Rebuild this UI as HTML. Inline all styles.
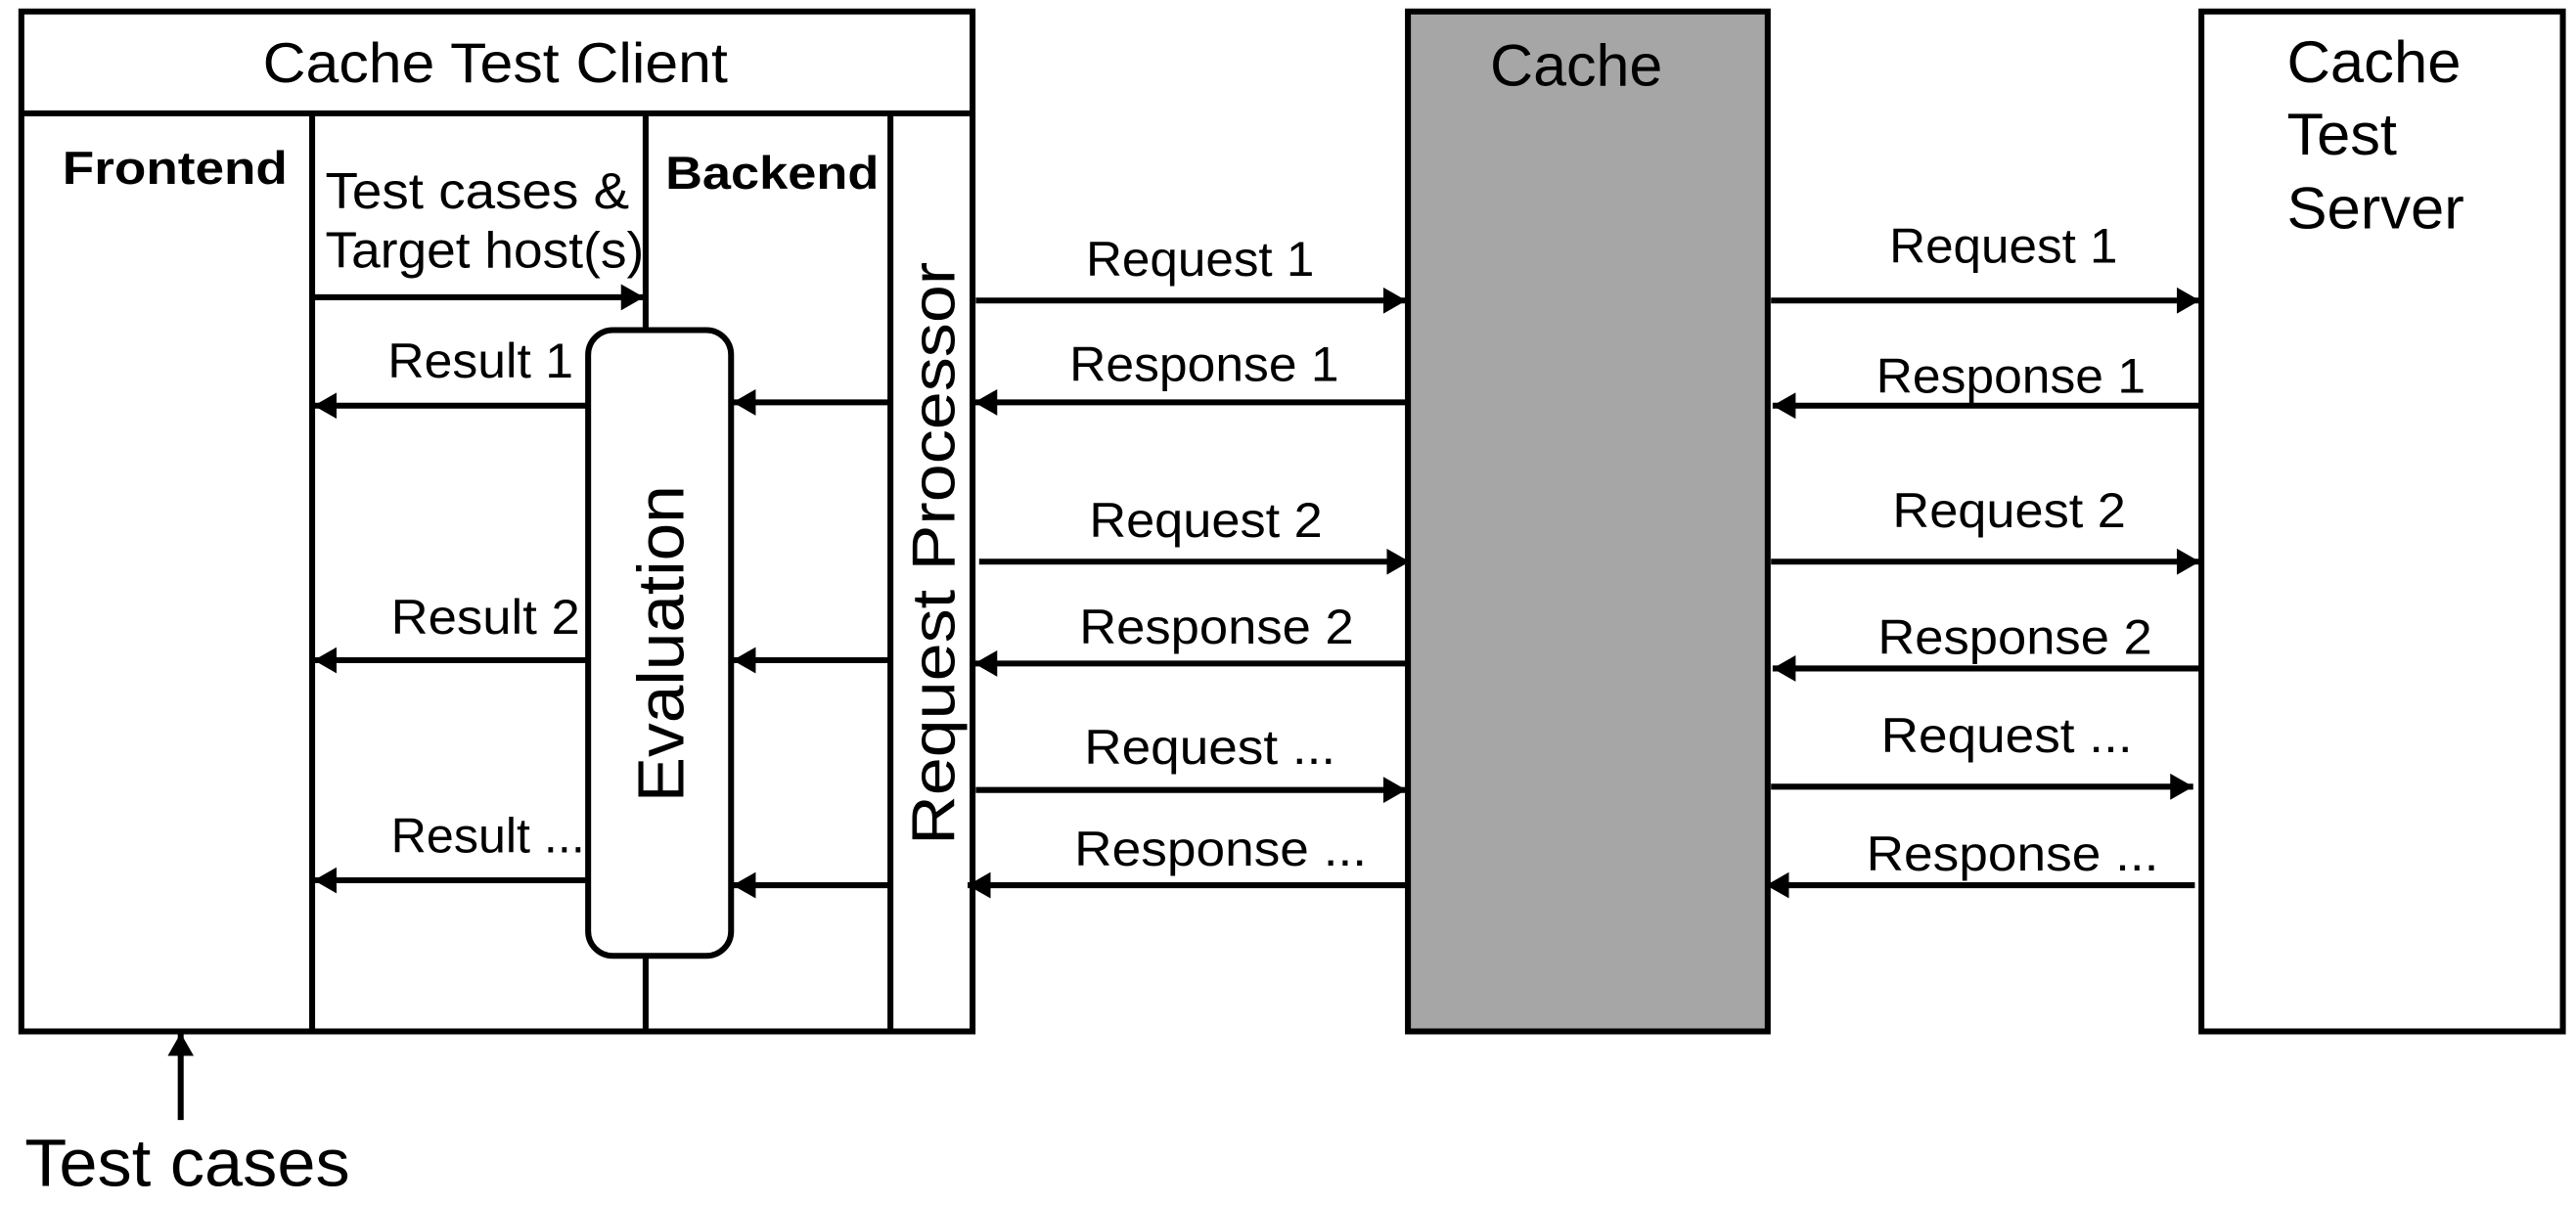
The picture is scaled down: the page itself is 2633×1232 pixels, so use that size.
<!DOCTYPE html>
<html><head><meta charset="utf-8"><style>
html,body{margin:0;padding:0;background:#fff;}
svg{display:block;}
text{font-family:"Liberation Sans",Arial,sans-serif;fill:#000;}
</style></head><body>
<svg width="2633" height="1232" viewBox="0 0 1568 733.7" preserveAspectRatio="none" xmlns="http://www.w3.org/2000/svg">
<defs>
<marker id="a" markerWidth="14" markerHeight="16" refX="14" refY="8" orient="auto" markerUnits="userSpaceOnUse">
<path d="M0,0 L14,8 L0,16 z" fill="#000"/></marker>
</defs>
<g stroke="#000" stroke-width="3.6" fill="none">
<rect x="13" y="7" width="579" height="621" fill="#fff"/>
<line x1="13" y1="69" x2="592" y2="69"/>
<line x1="190" y1="69" x2="190" y2="628"/>
<line x1="393" y1="69" x2="393" y2="628"/>
<line x1="542" y1="69" x2="542" y2="628"/>
<rect x="857" y="7" width="219" height="621" fill="#a6a6a6"/>
<rect x="1340" y="7" width="220" height="621" fill="#fff"/>
<rect x="358" y="201" width="87" height="381" rx="15" fill="#fff"/>
</g>
<g stroke="#000" stroke-width="3.6" marker-end="url(#a)">
<line x1="190" y1="181" x2="392" y2="181"/>
<line x1="358" y1="247" x2="191" y2="247"/>
<line x1="358" y1="402" x2="191" y2="402"/>
<line x1="358" y1="536" x2="191" y2="536"/>
<line x1="542" y1="245" x2="446" y2="245"/>
<line x1="542" y1="402" x2="446" y2="402"/>
<line x1="542" y1="539" x2="446" y2="539"/>
<line x1="594" y1="183" x2="856" y2="183"/>
<line x1="857" y1="245" x2="593" y2="245"/>
<line x1="596" y1="342" x2="858" y2="342"/>
<line x1="857" y1="404" x2="593" y2="404"/>
<line x1="594" y1="481" x2="856" y2="481"/>
<line x1="857" y1="539" x2="589" y2="539"/>
<line x1="1078" y1="183" x2="1339" y2="183"/>
<line x1="1340" y1="247" x2="1079" y2="247"/>
<line x1="1078" y1="342" x2="1339" y2="342"/>
<line x1="1340" y1="407" x2="1079" y2="407"/>
<line x1="1078" y1="479" x2="1335" y2="479"/>
<line x1="1336" y1="539" x2="1075" y2="539"/>
<line x1="110" y1="682" x2="110" y2="629"/>
</g>
<g lengthAdjust="spacingAndGlyphs">
<text x="160" y="50" font-size="34" textLength="283" lengthAdjust="spacingAndGlyphs">Cache Test Client</text>
<text x="38" y="112" font-size="28" font-weight="bold" textLength="137" lengthAdjust="spacingAndGlyphs">Frontend</text>
<text x="405" y="115" font-size="28" font-weight="bold" textLength="130" lengthAdjust="spacingAndGlyphs">Backend</text>
<text x="198" y="127" font-size="31" textLength="185" lengthAdjust="spacingAndGlyphs">Test cases &amp;</text>
<text x="198" y="163" font-size="31" textLength="194" lengthAdjust="spacingAndGlyphs">Target host(s)</text>
<g font-size="30">
<text x="236" y="230" textLength="113" lengthAdjust="spacingAndGlyphs">Result 1</text>
<text x="238" y="386" textLength="115" lengthAdjust="spacingAndGlyphs">Result 2</text>
<text x="238" y="519" textLength="118" lengthAdjust="spacingAndGlyphs">Result ...</text>
<text x="661" y="168" textLength="139" lengthAdjust="spacingAndGlyphs">Request 1</text>
<text x="651" y="232" textLength="164" lengthAdjust="spacingAndGlyphs">Response 1</text>
<text x="663" y="327" textLength="142" lengthAdjust="spacingAndGlyphs">Request 2</text>
<text x="657" y="392" textLength="167" lengthAdjust="spacingAndGlyphs">Response 2</text>
<text x="660" y="465" textLength="153" lengthAdjust="spacingAndGlyphs">Request ...</text>
<text x="654" y="527" textLength="178" lengthAdjust="spacingAndGlyphs">Response ...</text>
<text x="1150" y="160" textLength="139" lengthAdjust="spacingAndGlyphs">Request 1</text>
<text x="1142" y="239" textLength="164" lengthAdjust="spacingAndGlyphs">Response 1</text>
<text x="1152" y="321" textLength="142" lengthAdjust="spacingAndGlyphs">Request 2</text>
<text x="1143" y="398" textLength="167" lengthAdjust="spacingAndGlyphs">Response 2</text>
<text x="1145" y="458" textLength="153" lengthAdjust="spacingAndGlyphs">Request ...</text>
<text x="1136" y="530" textLength="178" lengthAdjust="spacingAndGlyphs">Response ...</text>
</g>
<text font-size="37" text-anchor="middle" transform="translate(581,337) rotate(-90)" textLength="355" lengthAdjust="spacingAndGlyphs">Request  Processor</text>
<text font-size="40" text-anchor="middle" transform="translate(416,392) rotate(-90)" textLength="193" lengthAdjust="spacingAndGlyphs">Evaluation</text>
<text x="907" y="52" font-size="36" textLength="105" lengthAdjust="spacingAndGlyphs">Cache</text>
<text x="1392" y="50" font-size="36" textLength="106" lengthAdjust="spacingAndGlyphs">Cache</text>
<text x="1392" y="94" font-size="36" textLength="67" lengthAdjust="spacingAndGlyphs">Test</text>
<text x="1392" y="139" font-size="36" textLength="108" lengthAdjust="spacingAndGlyphs">Server</text>
<text x="15" y="722" font-size="41" textLength="198" lengthAdjust="spacingAndGlyphs">Test cases</text>
</g>
</svg>
</body></html>
